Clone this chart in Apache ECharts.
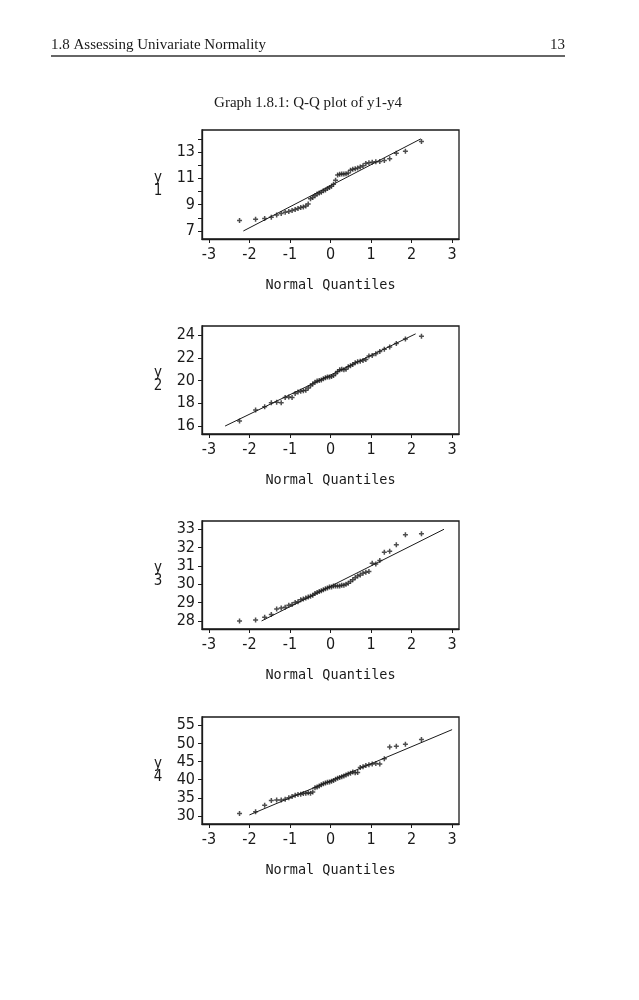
<!DOCTYPE html>
<html>
<head>
<meta charset="utf-8">
<script src="https://cdn.jsdelivr.net/npm/echarts@6/dist/echarts.min.js"></script>
<style>
html,body{margin:0;padding:0;background:#fff;}
#chart{width:639px;height:1000px;}
</style>
</head>
<body>
<div id="chart"></div>
<script>
// ---- data ----
const pageHeader = "1.8 Assessing Univariate Normality";
const pageNumber = "13";
const graphTitle = "Graph 1.8.1: Q-Q plot of y1-y4";
const xAxisTitle = "Normal Quantiles";
const yNames = ["y\n1", "y\n2", "y\n3", "y\n4"];

const quantiles = [-2.244,-1.848,-1.624,-1.460,-1.328,-1.216,-1.118,-1.029,-0.948,-0.872,
  -0.802,-0.734,-0.670,-0.609,-0.550,-0.493,-0.437,-0.383,-0.330,-0.278,
  -0.227,-0.176,-0.125,-0.075,-0.025,0.025,0.075,0.125,0.176,0.227,
  0.278,0.330,0.383,0.437,0.493,0.550,0.609,0.670,0.734,0.802,
  0.872,0.948,1.029,1.118,1.216,1.328,1.460,1.624,1.848,2.244];

const y1 = [7.79,7.89,7.95,8.05,8.22,8.33,8.42,8.47,8.55,8.63,
  8.70,8.78,8.83,8.90,9.05,9.45,9.55,9.68,9.80,9.88,
  9.95,10.05,10.12,10.22,10.30,10.40,10.55,10.85,11.25,11.30,
  11.32,11.33,11.35,11.40,11.62,11.68,11.72,11.78,11.85,11.95,
  12.12,12.18,12.22,12.25,12.28,12.35,12.48,12.90,13.05,13.80];

const y2 = [16.45,17.40,17.70,18.05,18.10,18.05,18.50,18.55,18.50,18.85,
  19.00,19.05,19.10,19.15,19.35,19.55,19.70,19.85,19.95,20.00,
  20.05,20.15,20.25,20.30,20.30,20.35,20.45,20.60,20.80,20.95,
  21.00,20.95,21.00,21.20,21.30,21.40,21.55,21.65,21.70,21.75,
  21.85,22.15,22.20,22.35,22.55,22.75,22.95,23.25,23.65,23.90];

const y3 = [28.00,28.05,28.20,28.35,28.65,28.70,28.75,28.85,28.90,29.00,
  29.05,29.15,29.20,29.25,29.30,29.35,29.40,29.50,29.55,29.60,
  29.65,29.70,29.75,29.80,29.85,29.85,29.90,29.90,29.90,29.90,
  29.95,29.95,30.00,30.05,30.15,30.25,30.35,30.45,30.50,30.60,
  30.65,30.70,31.15,31.10,31.30,31.75,31.80,32.15,32.70,32.75];

const y4 = [30.7,31.2,33.0,34.3,34.4,34.4,34.6,35.0,35.4,35.7,
  35.9,36.0,36.2,36.3,36.4,36.3,36.6,37.8,38.0,38.3,
  38.6,38.9,39.1,39.3,39.4,39.6,39.8,40.1,40.4,40.6,
  40.8,41.0,41.3,41.6,41.8,42.1,41.9,42.0,43.4,43.6,
  43.9,44.1,44.3,44.5,44.3,45.8,49.0,49.2,49.8,51.1];

// reference lines: [[x0,y0],[x1,y1]]
const line1 = [[-2.15, 7.0], [2.23, 14.0]];
const line2 = [[-2.6, 16.0], [2.1, 24.1]];
const line3 = [[-1.7, 28.0], [2.8, 33.0]];
const line4 = [[-2.0, 30.3], [3.0, 53.8]];

const xTicks = [-3, -2, -1, 0, 1, 2, 3];
const xRange = [-3.17, 3.17];

const yTicks1 = [7, 8, 9, 10, 11, 12, 13, 14];
const yLabels1 = [7, 9, 11, 13];
const yTicks2 = [16, 18, 20, 22, 24];
const yTicks3 = [28, 29, 30, 31, 32, 33];
const yTicks4 = [30, 35, 40, 45, 50, 55];

const yRanges = [[6.39, 14.67], [15.30, 24.79], [27.56, 33.45], [27.8, 57.28]];

// ---- build chart ----
const ys = [y1, y2, y3, y4];
const lines = [line1, line2, line3, line4];
const yTickSets = [yTicks1, yTicks2, yTicks3, yTicks4];
const yLabelSets = [yLabels1, yTicks2, yTicks3, yTicks4];

const gridTops = [130, 326, 521, 717];
const gridHeights = [109, 108, 108, 107];

const tickFont = "'Liberation Sans Narrow','DejaVu Sans Condensed','Liberation Sans',sans-serif";
const monoFont = "'DejaVu Sans Mono','Liberation Mono',monospace";
const ink = '#1a1a1a';
const plusSymbol = 'path://M3.5,0H6.5V3.5H10V6.5H6.5V10H3.5V6.5H0V3.5H3.5Z';

const grids = [], xAxes = [], yAxes = [], series = [];
for (let i = 0; i < 4; i++) {
  grids.push({
    left: 202, top: gridTops[i], width: 257, height: gridHeights[i],
    show: true, borderColor: ink, borderWidth: 1.3, backgroundColor: 'transparent'
  });
  xAxes.push({
    type: 'value', gridIndex: i, min: xRange[0], max: xRange[1],
    name: xAxisTitle, nameLocation: 'middle', nameGap: 39,
    nameTextStyle: { fontFamily: monoFont, fontSize: 13.5, color: ink, lineHeight: 14 },
    axisLine: { show: true, onZero: false, lineStyle: { color: ink, width: 1.3 } },
    axisTick: { show: true, length: 4, customValues: xTicks, lineStyle: { color: ink, width: 1 } },
    axisLabel: { customValues: xTicks, margin: 8, fontFamily: tickFont, fontSize: 16, color: ink,
      formatter: v => String(v) },
    splitLine: { show: false }
  });
  yAxes.push({
    type: 'value', gridIndex: i, min: yRanges[i][0], max: yRanges[i][1],
    name: yNames[i], nameLocation: 'middle', nameGap: 44, nameRotate: 0,
    nameTextStyle: { fontFamily: tickFont, fontSize: 15, color: ink, lineHeight: 13,
      align: 'center', verticalAlign: 'middle', padding: [8, 0, 0, 0] },
    axisLine: { show: true, onZero: false, lineStyle: { color: ink, width: 1.3 } },
    axisTick: { show: true, length: 4, customValues: yTickSets[i], lineStyle: { color: ink, width: 1 } },
    axisLabel: { customValues: yLabelSets[i], margin: 7, fontFamily: tickFont, fontSize: 16, color: ink,
      formatter: v => String(v) },
    splitLine: { show: false }
  });
  series.push({
    type: 'scatter', xAxisIndex: i, yAxisIndex: i,
    data: quantiles.map((q, k) => [q, ys[i][k]]),
    symbol: plusSymbol, symbolSize: 5,
    itemStyle: { color: '#222' }, silent: true, animation: false
  });
  series.push({
    type: 'line', xAxisIndex: i, yAxisIndex: i,
    data: lines[i], showSymbol: false, symbol: 'none',
    lineStyle: { color: ink, width: 1 }, silent: true, animation: false
  });
}

const chart = echarts.init(document.getElementById('chart'), null, { renderer: 'canvas' });
chart.setOption({
  backgroundColor: '#ffffff',
  animation: false,
  grid: grids, xAxis: xAxes, yAxis: yAxes, series: series,
  graphic: [
    { type: 'text', left: 51, top: 38,
      style: { text: pageHeader, font: "15px 'Liberation Serif','Times New Roman',serif", fill: ink } },
    { type: 'text', right: 74, top: 38,
      style: { text: pageNumber, font: "15px 'Liberation Serif','Times New Roman',serif", fill: ink } },
    { type: 'line', shape: { x1: 51, y1: 56, x2: 565, y2: 56 },
      style: { stroke: '#333', lineWidth: 1.6 } },
    { type: 'text', x: 308, y: 96,
      style: { text: graphTitle, font: "15px 'Liberation Serif','Times New Roman',serif", fill: ink,
        textAlign: 'center' } }
  ]
});
</script>
</body>
</html>
